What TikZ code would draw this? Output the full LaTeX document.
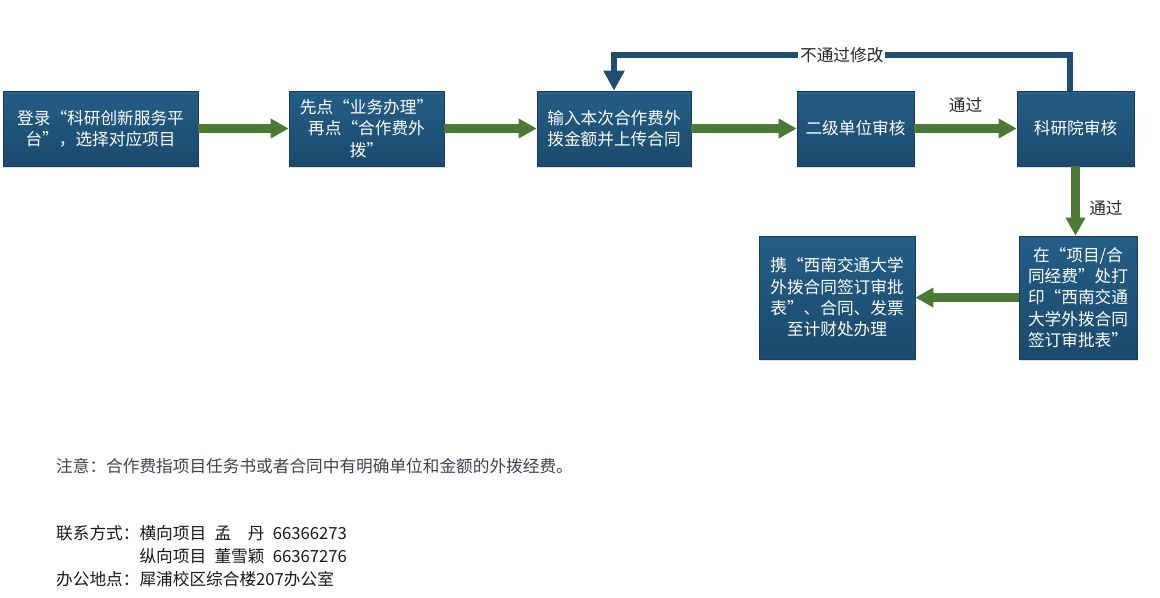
\documentclass[tikz,border=0pt]{standalone}
\usepackage{fontspec}
\setmainfont{Noto Sans CJK SC}
\usepackage{tikz}
\usetikzlibrary{arrows.meta,shadows}
\definecolor{boxtop}{HTML}{245E86}
\definecolor{boxbot}{HTML}{1A4A6C}
\definecolor{boxedge}{HTML}{173F5C}
\definecolor{flowgreen}{HTML}{4B7A34}
\definecolor{backblue}{HTML}{1F4E6F}
\definecolor{notegray}{HTML}{3B4550}
\tikzset{
  stepbox/.style={rectangle, draw=boxedge, line width=0.5pt, top color=boxtop, bottom color=boxbot,
    text=white, align=center, inner sep=0pt, font=\fontsize{12.5}{16}\selectfont,
    drop shadow={opacity=0.25, shadow xshift=1pt, shadow yshift=-1.2pt}},
  flow/.style={draw=flowgreen, line width=7pt, -{Triangle[length=13.5pt,width=14pt]}},
  backline/.style={draw=backblue, line width=4.5pt, -{Triangle[length=15pt,width=15pt]}},
  lbl/.style={font=\fontsize{12.5}{16}\selectfont, text=black!85}
}
\begin{document}
\begin{tikzpicture}[x=0.75pt,y=-0.75pt]
\useasboundingbox (0,0) rectangle (1160,597);
% flow boxes
\node[stepbox, minimum width=146.25pt, minimum height=56.25pt] (login) at (100.5,128.5) {登录“科研创新服务平\\台”，选择对应项目};
\node[stepbox, minimum width=116.25pt, minimum height=56.25pt] (click) at (366.5,128.5) {先点“业务办理”\\再点“合作费外\\拨”};
\node[stepbox, minimum width=115.5pt, minimum height=56.25pt] (input) at (614,128.5) {输入本次合作费外\\拨金额并上传合同};
\node[stepbox, minimum width=87.75pt, minimum height=56.25pt] (unit) at (855.5,128.5) {二级单位审核};
\node[stepbox, minimum width=87.75pt, minimum height=56.25pt] (inst) at (1075.5,128.5) {科研院审核};
\node[stepbox, minimum width=88.5pt, minimum height=92.25pt] (print) at (1078,297.5) {在“项目/合\\同经费”处打\\印“西南交通\\大学外拨合同\\签订审批表”};
\node[stepbox, minimum width=117pt, minimum height=92.25pt] (finance) at (837,297.5) {携“西南交通大学\\外拨合同签订审批\\表”、合同、发票\\至计财处办理};
% arrows
\draw[flow] (login) -- (click);
\draw[flow] (click) -- (input);
\draw[flow] (input) -- (unit);
\draw[flow] (unit) -- node[lbl, above=5pt] (passA) {通过} (inst);
\draw[flow] (inst.south) -- node[lbl, right=3.5pt, pos=0.6] (passB) {通过} (inst.south |- print.north);
\draw[flow] (print) -- (finance);
\draw[backline] ([xshift=-4.5pt]inst.north) -- ++(0,-35.5) -| node[lbl, pos=0.25, fill=white, inner sep=1.5pt] (fail) {不通过修改} (input.north);
% notes
\node[anchor=west, text=notegray, font=\fontsize{12.5}{16}\selectfont] (note) at (51.5,466) {注意：合作费指项目任务书或者合同中有明确单位和金额的外拨经费。};
\node[anchor=north west, align=left, font=\fontsize{12.5}{17}\selectfont, text=black!90] (contact) at (51.5,521) {联系方式：横向项目\hspace{0.5em}孟　丹\hspace{0.5em}66366273\\\phantom{联系方式：}纵向项目\hspace{0.5em}董雪颖\hspace{0.5em}66367276\\办公地点：犀浦校区综合楼207办公室};
\end{tikzpicture}
\end{document}
